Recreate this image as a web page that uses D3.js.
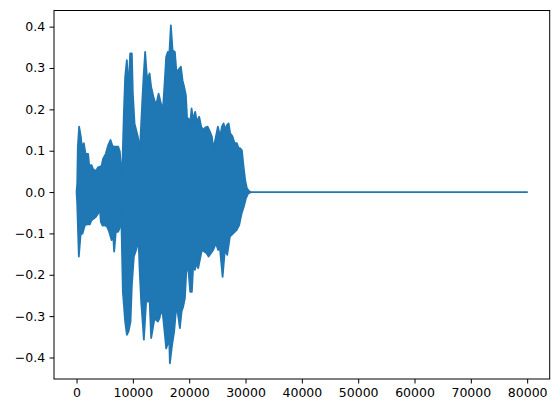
<!DOCTYPE html>
<html>
<head>
<meta charset="utf-8">
<script src="https://cdn.jsdelivr.net/npm/d3@7"></script>
<style>
  html, body { margin: 0; padding: 0; background: #fff; }
</style>
</head>
<body>
<svg id="chart" width="559" height="413"></svg>
<script>
// Envelope of the waveform: sample index -> amplitude
const upperX = [0, 120, 231, 462, 764, 941, 1296, 1598, 2060, 2238, 2664, 2948, 3428, 3836, 4440, 4724, 5204, 5612, 6038, 6394, 6802, 7388, 7690, 7814, 8099, 8400, 8631, 8933, 9235, 9519, 9821, 9999, 10301, 10585, 10887, 11189, 11366, 11651, 11899, 12183, 12539, 12965, 13249, 13728, 14137, 14563, 14918, 15327, 15629, 15913, 16215, 16446, 16748, 17050, 17458, 17760, 18044, 18524, 18826, 19110, 19412, 19643, 19891, 20122, 20424, 20708, 21063, 21365, 21774, 22129, 22484, 22839, 23266, 23674, 24029, 24260, 24562, 25095, 25503, 25805, 26107, 26391, 26693, 26995, 27279, 27706, 28061, 28469, 28771, 29055, 29357, 29659, 29943, 30245, 30654, 31000, 79999];
const upperY = [0, 0.02, 0.11, 0.158, 0.134, 0.11, 0.118, 0.092, 0.092, 0.065, 0.065, 0.055, 0.051, 0.06, 0.063, 0.081, 0.093, 0.113, 0.126, 0.111, 0.11, 0.11, 0.098, 0.073, 0.045, 0.19, 0.278, 0.319, 0.246, 0.335, 0.335, 0.238, 0.166, 0.15, 0.134, 0.101, 0.134, 0.214, 0.278, 0.339, 0.27, 0.287, 0.254, 0.226, 0.21, 0.238, 0.218, 0.198, 0.262, 0.327, 0.339, 0.327, 0.403, 0.343, 0.339, 0.287, 0.295, 0.303, 0.27, 0.254, 0.234, 0.174, 0.178, 0.158, 0.202, 0.174, 0.194, 0.17, 0.182, 0.158, 0.15, 0.156, 0.158, 0.146, 0.134, 0.106, 0.122, 0.158, 0.134, 0.158, 0.166, 0.15, 0.162, 0.166, 0.142, 0.134, 0.118, 0.118, 0.106, 0.106, 0.101, 0.061, 0.029, 0.009, 0.002, 0, 0];
const lowerX = [0, 107, 408, 710, 1066, 1474, 1883, 2362, 2664, 3072, 3428, 3836, 4138, 4316, 4618, 5026, 5435, 5790, 6216, 6500, 6678, 6980, 7388, 7637, 7921, 8223, 8631, 8933, 9235, 9590, 9821, 10176, 10585, 11011, 11189, 11473, 11775, 11952, 12361, 12663, 12965, 13249, 13551, 13853, 14137, 14439, 14741, 15025, 15327, 15629, 15913, 16215, 16446, 16570, 16925, 17334, 17636, 17938, 18346, 18648, 18932, 19234, 19536, 19891, 20175, 20477, 20708, 21010, 21312, 21596, 21951, 22253, 22662, 23088, 23443, 23852, 24260, 24740, 25148, 25450, 25930, 26338, 26747, 27226, 27812, 28416, 28878, 29304, 29712, 30067, 30476, 31000, 79999];
const lowerY = [0, -0.023, -0.156, -0.104, -0.1, -0.08, -0.078, -0.078, -0.068, -0.064, -0.06, -0.052, -0.04, -0.072, -0.081, -0.08, -0.084, -0.096, -0.116, -0.104, -0.144, -0.096, -0.096, -0.088, -0.043, -0.241, -0.313, -0.345, -0.337, -0.313, -0.225, -0.156, -0.14, -0.116, -0.184, -0.265, -0.321, -0.357, -0.265, -0.265, -0.261, -0.353, -0.329, -0.305, -0.309, -0.313, -0.305, -0.285, -0.297, -0.337, -0.378, -0.365, -0.353, -0.414, -0.374, -0.337, -0.289, -0.289, -0.329, -0.289, -0.277, -0.257, -0.18, -0.193, -0.241, -0.241, -0.18, -0.188, -0.172, -0.184, -0.16, -0.14, -0.144, -0.148, -0.156, -0.148, -0.14, -0.124, -0.14, -0.135, -0.205, -0.14, -0.152, -0.108, -0.1, -0.092, -0.08, -0.052, -0.035, -0.015, -0.003, 0, 0];

const xTicks = [0, 10000, 20000, 30000, 40000, 50000, 60000, 70000, 80000];
const yTicks = [-0.4, -0.3, -0.2, -0.1, 0.0, 0.1, 0.2, 0.3, 0.4];

const plot = { left: 54, right: 549.7, top: 10.5, bottom: 379 };
const color = "#1f77b4";

const svg = d3.select("#chart");

const x = d3.scaleLinear().domain([-4000, 84000]).range([plot.left, plot.right]);
const y = d3.scaleLinear().domain([-0.452, 0.439]).range([plot.bottom, plot.top]);

// polygon: upper edge forward then lower edge backward
const upperPts = upperX.map((v, i) => [v, upperY[i]]);
const lowerPts = lowerX.map((v, i) => [v, lowerY[i]]).reverse();
const poly = upperPts.concat(lowerPts);

const line = d3.line().x(d => x(d[0])).y(d => y(d[1]));

svg.append("path")
  .attr("d", line(poly) + "Z")
  .attr("fill", color)
  .attr("stroke", color)
  .attr("stroke-width", 1.8)
  .attr("stroke-linejoin", "round");

// axes
const xAxis = d3.axisBottom(x).tickValues(xTicks).tickFormat(d3.format("d"))
  .tickSize(4.5).tickPadding(4.4);
const yAxis = d3.axisLeft(y).tickValues(yTicks).tickFormat(d3.format(".1f"))
  .tickSize(4.5).tickPadding(4.4);

const gx = svg.append("g").attr("transform", `translate(0,${plot.bottom})`).call(xAxis);
const gy = svg.append("g").attr("transform", `translate(${plot.left},0)`).call(yAxis);
[gx, gy].forEach(g => {
  g.select(".domain").remove();
  g.selectAll(".tick line").attr("stroke", "#000").attr("stroke-width", 1);
  g.selectAll(".tick text").attr("fill", "#000")
    .style("font-family", "DejaVu Sans")
    .style("font-size", "12.5px");
});

// spines
svg.append("rect")
  .attr("x", plot.left).attr("y", plot.top)
  .attr("width", plot.right - plot.left).attr("height", plot.bottom - plot.top)
  .attr("fill", "none").attr("stroke", "#000").attr("stroke-width", 1);
</script>
</body>
</html>
